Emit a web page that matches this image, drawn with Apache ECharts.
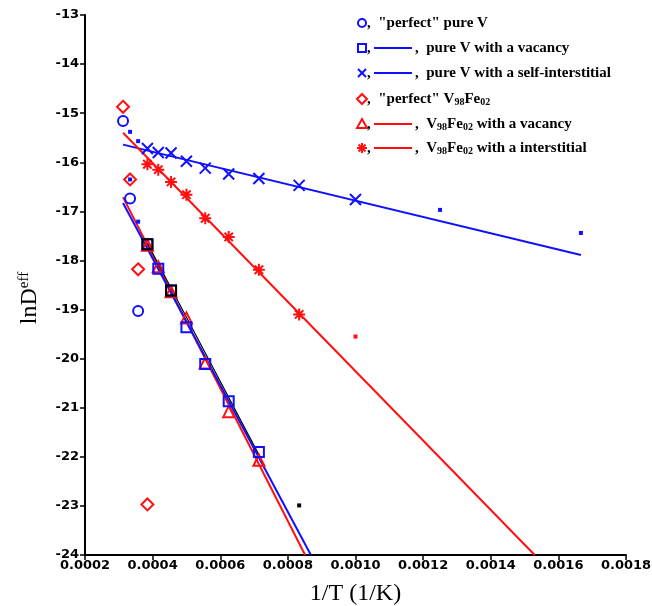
<!DOCTYPE html>
<html>
<head>
<meta charset="utf-8">
<script src="https://cdn.jsdelivr.net/npm/echarts@6/dist/echarts.min.js"></script>
<style>
  html, body { margin: 0; padding: 0; background: #fff; }
  #chart { width: 652px; height: 606px; }
</style>
</head>
<body>
<div id="chart"></div>
<script>
// Effective diffusivity vs inverse temperature (Arrhenius plot)
const xTicks = [0.0002, 0.0004, 0.0006, 0.0008, 0.0010, 0.0012, 0.0014, 0.0016, 0.0018];
const yTicks = [-24, -23, -22, -21, -20, -19, -18, -17, -16, -15, -14, -13];

// "perfect" pure V
const pureVPerfectX = [0.0003125, 0.0003333, 0.0003571];
const pureVPerfectY = [-15.16, -16.74, -19.03];

// pure V with a vacancy
const pureVVacX = [0.0003846, 0.0004167, 0.0004545, 0.0005, 0.0005556, 0.000625, 0.0007143];
const pureVVacY = [-17.67, -18.17, -18.61, -19.36, -20.11, -20.87, -21.90];
const pureVVacFitX = [0.0003125, 0.000868];
const pureVVacFitY = [-16.83, -24.0];

// pure V with a self-interstitial
const pureVIntX = [0.0003846, 0.0004167, 0.0004545, 0.0005, 0.0005556, 0.000625, 0.0007143, 0.0008333, 0.001];
const pureVIntY = [-15.72, -15.80, -15.81, -15.98, -16.12, -16.24, -16.33, -16.47, -16.76];
const pureVIntFitX = [0.0003125, 0.0016667];
const pureVIntFitY = [-15.64, -17.89];

// "perfect" V98Fe02
const feVPerfectX = [0.0003125, 0.0003333, 0.0003571, 0.0003846];
const feVPerfectY = [-14.87, -16.35, -18.18, -22.97];

// V98Fe02 with a vacancy
const feVacX = [0.0003846, 0.0004167, 0.0004545, 0.0005, 0.0005556, 0.000625, 0.0007143];
const feVacY = [-17.69, -18.13, -18.64, -19.17, -20.09, -21.08, -22.07];
const feVacFitX = [0.0003125, 0.000851];
const feVacFitY = [-16.71, -24.0];

// V98Fe02 with an interstitial
const feIntX = [0.0003846, 0.0004167, 0.0004545, 0.0005, 0.0005556, 0.000625, 0.0007143, 0.0008333];
const feIntY = [-16.04, -16.15, -16.40, -16.66, -17.14, -17.52, -18.19, -19.10];
const feIntFitX = [0.0003125, 0.00153];
const feIntFitY = [-15.40, -24.0];

// combined vacancy fit (black) and its marked points
const blackFitX = [0.0003846, 0.000716];
const blackFitY = [-17.65, -21.98];
const blackSqX = [0.0003846, 0.0004545];
const blackSqY = [-17.67, -18.61];

// small single-point markers
const blueDotX = [0.0003333, 0.0003571, 0.0003333, 0.0003571, 0.00125, 0.0016667];
const blueDotY = [-15.38, -15.57, -16.35, -17.21, -16.97, -17.44];
const redDotX = [0.001];
const redDotY = [-19.55];
const blackDotX = [0.0008333];
const blackDotY = [-22.99];

const BLUE = '#1010ff';
const RED = '#ff1010';
const SERIF = '"Liberation Serif", "DejaVu Serif", serif';
const SANS = '"DejaVu Sans", sans-serif';

const pairs = (xs, ys) => xs.map((x, i) => [x, ys[i]]);

const X_PATH = 'path://M0,0L10,10M10,0L0,10';
const STAR_PATH = 'path://M5,0L5,10M0,5L10,5M1.5,1.5L8.5,8.5M8.5,1.5L1.5,8.5';

function lineSeries(xs, ys, color, width) {
  return {
    type: 'line', data: pairs(xs, ys), showSymbol: false, symbol: 'none',
    lineStyle: { color: color, width: width || 2 }, z: 2, silent: true
  };
}
function markerSeries(xs, ys, symbol, size, color, filled) {
  return {
    type: 'scatter', data: pairs(xs, ys), symbol: symbol, symbolSize: size,
    itemStyle: {
      color: filled ? color : 'rgba(0,0,0,0)',
      borderColor: color, borderWidth: filled ? 0 : 2, opacity: 1
    },
    z: 3, silent: true
  };
}

// legend drawn as graphic rows
const LX = 362;
const legendRows = [
  { y: 23, mark: 'circle', color: BLUE, line: false, text: ', "perfect" pure V' },
  { y: 48, mark: 'square', color: BLUE, line: true, text: ', pure V with a vacancy' },
  { y: 73, mark: 'x', color: BLUE, line: true, text: ', pure V with a self-interstitial' },
  { y: 99, mark: 'diamond', color: RED, line: false, text: ', "perfect" {n|V}{s|98}{n|Fe}{s|02}' },
  { y: 124, mark: 'triangle', color: RED, line: true, text: ', {n|V}{s|98}{n|Fe}{s|02}{n| with a vacancy}' },
  { y: 148, mark: 'star', color: RED, line: true, text: ', {n|V}{s|98}{n|Fe}{s|02}{n| with a interstitial}' }
];

function markGraphic(kind, cx, cy, c) {
  const st = { fill: 'none', stroke: c, lineWidth: 2 };
  const ln = (x1, y1, x2, y2) => ({ type: 'line', shape: { x1, y1, x2, y2 }, style: { stroke: c, lineWidth: 2 } });
  if (kind === 'circle') return [{ type: 'circle', shape: { cx, cy, r: 4 }, style: st }];
  if (kind === 'square') return [{ type: 'rect', shape: { x: cx - 4, y: cy - 4, width: 8, height: 8 }, style: st }];
  if (kind === 'diamond') return [{ type: 'polygon', shape: { points: [[cx, cy - 5], [cx + 5, cy], [cx, cy + 5], [cx - 5, cy]] }, style: st }];
  if (kind === 'triangle') return [{ type: 'polygon', shape: { points: [[cx, cy - 5], [cx + 5, cy + 4], [cx - 5, cy + 4]] }, style: st }];
  if (kind === 'x') return [ln(cx - 4, cy - 4, cx + 4, cy + 4), ln(cx + 4, cy - 4, cx - 4, cy + 4)];
  return [ln(cx, cy - 5, cx, cy + 5), ln(cx - 5, cy, cx + 5, cy), ln(cx - 3.5, cy - 3.5, cx + 3.5, cy + 3.5), ln(cx + 3.5, cy - 3.5, cx - 3.5, cy + 3.5)];
}

const richLegend = {
  n: { fontFamily: SERIF, fontWeight: 'bold', fontSize: 15, color: '#000', lineHeight: 18 },
  s: { fontFamily: SERIF, fontWeight: 'bold', fontSize: 10, color: '#000', lineHeight: 18, padding: [7, 0, 0, 0] }
};

const graphics = [];
legendRows.forEach(r => {
  markGraphic(r.mark, LX, r.y, r.color).forEach(g => graphics.push(g));
  let tx = LX + 5;
  if (r.line) {
    graphics.push({ type: 'text', x: tx, y: r.y, style: { text: ',', font: 'bold 15px ' + SERIF, fill: '#000', verticalAlign: 'middle' } });
    graphics.push({ type: 'line', shape: { x1: 374, y1: r.y, x2: 412, y2: r.y }, style: { stroke: r.color, lineWidth: 2 } });
    tx = 415;
  }
  graphics.push({
    type: 'text', x: tx, y: r.y,
    style: {
      text: r.text.replace(/^, /, ',  '), fill: '#000', verticalAlign: 'middle',
      fontFamily: SERIF, fontWeight: 'bold', fontSize: 15, rich: richLegend
    }
  });
});

const chart = echarts.init(document.getElementById('chart'), null, { renderer: 'canvas' });
chart.setOption({
  animation: false,
  backgroundColor: '#fff',
  grid: { left: 85, right: 26, top: 15, bottom: 51, containLabel: false, outerBoundsMode: 'none' },
  xAxis: {
    type: 'value', min: xTicks[0], max: xTicks[xTicks.length - 1], interval: 0.0002,
    name: '1/T (1/K)', nameLocation: 'middle', nameGap: 27,
    nameTextStyle: { fontFamily: SERIF, fontSize: 24, color: '#000' },
    axisLine: { show: true, onZero: false, lineStyle: { color: '#000', width: 2 } },
    axisTick: { show: true, inside: false, length: 5, lineStyle: { color: '#000', width: 1.5 } },
    axisLabel: {
      margin: 4, color: '#000', fontFamily: SANS, fontWeight: 'bold', fontSize: 13,
      formatter: v => v.toFixed(4)
    },
    splitLine: { show: false }
  },
  yAxis: {
    type: 'value', min: yTicks[0], max: yTicks[yTicks.length - 1], interval: 1,
    name: '{m|lnD}{s|eff}', nameLocation: 'middle', nameGap: 42, nameRotate: 90,
    nameTextStyle: {
      color: '#000', fontFamily: SERIF, fontSize: 24, padding: [0, 26, 0, 0],
      rich: {
        m: { fontFamily: SERIF, fontSize: 24, color: '#000', lineHeight: 26 },
        s: { fontFamily: SERIF, fontSize: 15, color: '#000', lineHeight: 26, padding: [0, 0, 11, 0] }
      }
    },
    axisLine: { show: true, onZero: false, lineStyle: { color: '#000', width: 2 } },
    axisTick: { show: true, inside: false, length: 5, lineStyle: { color: '#000', width: 1.5 } },
    axisLabel: { margin: 6, color: '#000', fontFamily: SANS, fontWeight: 'bold', fontSize: 13 },
    splitLine: { show: false }
  },
  graphic: graphics,
  series: [
    lineSeries(pureVIntFitX, pureVIntFitY, BLUE),
    lineSeries(feIntFitX, feIntFitY, RED),
    lineSeries(feVacFitX, feVacFitY, RED),
    lineSeries(pureVVacFitX, pureVVacFitY, BLUE),
    lineSeries(blackFitX, blackFitY, '#000', 1.2),
    markerSeries(pureVPerfectX, pureVPerfectY, 'circle', 10, BLUE, false),
    markerSeries(feVPerfectX, feVPerfectY, 'diamond', 12, RED, false),
    markerSeries(feVacX, feVacY, 'triangle', 11, RED, false),
    markerSeries(pureVVacX, pureVVacY, 'rect', 10, BLUE, false),
    markerSeries(blackSqX, blackSqY, 'rect', 10, '#000', false),
    markerSeries(pureVIntX, pureVIntY, X_PATH, 11, BLUE, false),
    markerSeries(feIntX, feIntY, STAR_PATH, 12, RED, false),
    markerSeries(blueDotX, blueDotY, 'rect', 4, BLUE, true),
    markerSeries(redDotX, redDotY, 'rect', 4, RED, true),
    markerSeries(blackDotX, blackDotY, 'rect', 4, '#000', true)
  ]
});
</script>
</body>
</html>
